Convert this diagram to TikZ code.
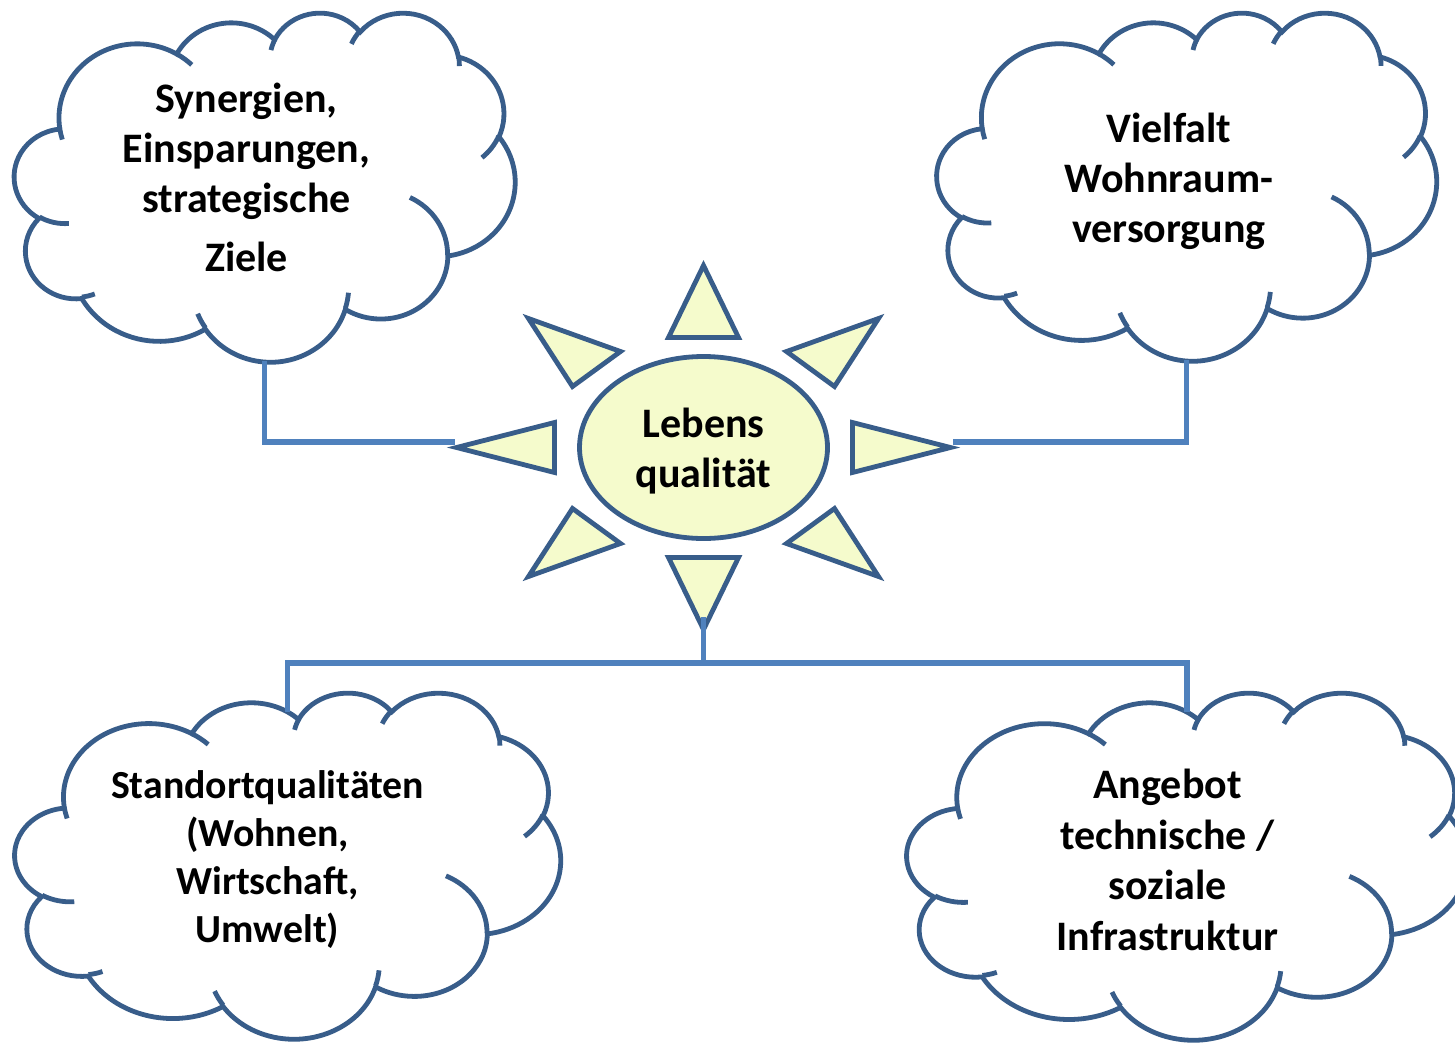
\documentclass[tikz,border=0pt]{standalone}
\usepackage{fontspec}
\setmainfont{Carlito}
\usetikzlibrary{shapes.geometric}
\definecolor{cloudline}{RGB}{56,93,138}
\definecolor{connline}{RGB}{79,129,189}
\definecolor{sunfill}{RGB}{245,251,204}
\newcommand\carc[4]{arc[start angle={atan2((#1)*sin(#3),(#2)*cos(#3))},
  delta angle={mod(atan2((#1)*sin((#3)+(#4)),(#2)*cos((#3)+(#4)))-atan2((#1)*sin(#3),(#2)*cos(#3))+720,360)},
  x radius=#1, y radius=#2]}
\newcommand\cloudoutline{(39.00,143.70)
 \carc{67.53}{91.90}{-190.487483}{123.780533}
 \carc{53.33}{72.67}{-144.102383}{89.945233}
 \carc{43.65}{59.45}{-145.807917}{99.723017}
 \carc{48.57}{65.95}{-130.986067}{117.241733}
 \carc{53.33}{72.73}{-78.708883}{109.026917}
 \carc{67.75}{92.20}{-46.26725}{130.269}
 \carc{57.85}{78.67}{0.625017}{114.033333}
 \carc{67.52}{92.15}{22.4516}{115.17255}
 \carc{77.20}{105.43}{66.242633}{75.711017}
 \carc{43.60}{59.18}{-274.942083}{146.735567}
 \carc{43.45}{59.45}{-246.8285}{152.51885} -- cycle}
\newcommand\cloudcurls{(46.93,261.77) \carc{43.45}{59.45}{86.742}{26.4295}
 (69.28,348.99) \carc{43.60}{59.18}{73.610467}{11.447467}
 (164.78,390.90) \carc{67.52}{92.15}{137.62415}{14.0811}
 (288.27,347.51) \carc{67.52}{92.15}{6.453267}{15.99835}
 (341.29,229.54) \carc{57.85}{78.67}{-70.29235}{70.917367}
 (417.98,153.54) \carc{53.33}{72.73}{30.318033}{27.7515}
 (383.24,54.26) \carc{48.57}{65.95}{-13.744333}{14.8589}
 (290.78,39.52) \carc{48.57}{65.95}{-149.18145}{18.195367}
 (221.41,47.20) \carc{43.65}{59.45}{-163.494267}{17.68635}
 (140.00,51.92) \carc{67.53}{91.90}{-66.70695}{12.31935}
 (41.27,157.89) \carc{67.53}{91.90}{157.65435}{11.858167}}
\newcommand\drawcloud[5]{%
 \begin{scope}[shift={(#2,#3)}, xscale=#4/432, yscale=#5/432]
 \path[cloudbody] \cloudoutline;
 \path[cloudcurl] \cloudcurls;
 \coordinate (#1-top) at (216,25);
 \coordinate (#1-bot) at (216,432);
 \end{scope}}
\begin{document}
\begin{tikzpicture}[x=0.5pt,y=-0.5pt,
  cloudbody/.style={draw=cloudline, line width=2.4pt, fill=white},
  cloudcurl/.style={draw=cloudline, line width=2.4pt},
  ray/.style={draw=cloudline, line width=2.4pt, fill=sunfill},
  conn/.style={draw=connline, line width=2.6pt},
  lbl/.style={font=\bfseries\fontsize{21}{25}\selectfont, align=center, inner sep=0pt}]
\path[use as bounding box, clip] (0,0) rectangle (1455,1044);

% sun
\node[ellipse, draw=cloudline, line width=2.4pt, fill=sunfill,
      minimum width=124pt, minimum height=91pt, inner sep=0pt] (sun) at (703.5,447.5) {};
\begin{scope}[shift={(sun.center)}]
  \draw[ray] (0,-182) -- (35,-110) -- (-35,-110) -- cycle;
  \draw[ray] (0,182) -- (35,110) -- (-35,110) -- cycle;
  \draw[ray] (-247,0) -- (-149,-25) -- (-149,25) -- cycle;
  \draw[ray] (247,0) -- (149,-25) -- (149,25) -- cycle;
  \draw[ray] (-175,-129) -- (-83,-96) -- (-131,-61) -- cycle;
  \draw[ray] (175,-129) -- (83,-96) -- (131,-61) -- cycle;
  \draw[ray] (-175,129) -- (-83,96) -- (-131,61) -- cycle;
  \draw[ray] (175,129) -- (83,96) -- (131,61) -- cycle;
  \coordinate (sunL) at (-248.5,-5.5);
  \coordinate (sunR) at (249.5,-5.5);
  \coordinate (sunB) at (0,169.5);
  \coordinate (bus) at (0,215.5);
\end{scope}
\node[lbl] (suntext) at (703.5,451) {Lebens\\qualität};

% clouds
\drawcloud{c1}{14.5}{12}{500.5}{349}
\drawcloud{c2}{937}{12}{499.5}{348}
\drawcloud{c3}{15}{692}{545.5}{346}
\drawcloud{c4}{907}{692}{560}{347}

% connectors
\draw[conn] (c1-bot) |- (sunL);
\draw[conn] (c2-bot) |- (sunR);
\draw[conn] (sunB) -- (bus) -| (c3-top);
\draw[conn] (bus) -| (c4-top);

% texts
\node[lbl] (t1) at (246.5,177) {Synergien,\\Einsparungen,\\strategische\\[4.5pt]Ziele};
\node[lbl] (t2) at (1169,181) {Vielfalt\\Wohnraum-\\versorgung};
\node[lbl, font=\bfseries\fontsize{19.9}{24}\selectfont] (t3) at (267.5,860) {Standortqualitäten\\(Wohnen,\\Wirtschaft,\\Umwelt)};
\node[lbl, font=\bfseries\fontsize{21}{25.2}\selectfont] (t4) at (1167.5,860) {Angebot\\technische /\\soziale\\Infrastruktur};
\end{tikzpicture}
\end{document}
